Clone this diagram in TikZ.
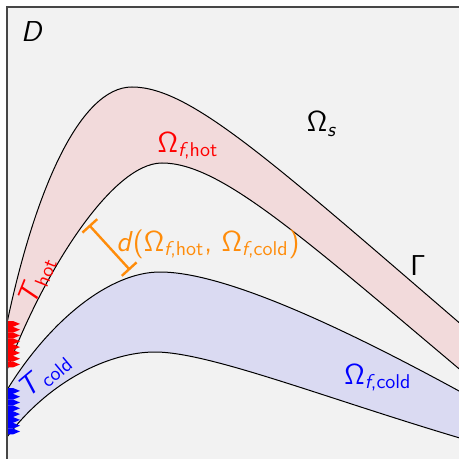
\documentclass[tikz,border=0pt]{standalone}
\usepackage{xcolor}
\usepackage{tikz}
\usetikzlibrary{arrows.meta}
\definecolor{bgclr}{RGB}{242,242,242}
\definecolor{frameclr}{RGB}{70,70,70}
\definecolor{hotfill}{RGB}{242,218,219}
\definecolor{coldfill}{RGB}{218,218,242}
\definecolor{hotclr}{RGB}{255,0,0}
\definecolor{coldclr}{RGB}{0,0,255}
\definecolor{distclr}{RGB}{255,140,10}
% sans Greek capitals from cmss
\newcommand{\OmG}{{\usefont{OT1}{cmss}{m}{n}\char10}}
\newcommand{\GamG}{{\usefont{OT1}{cmss}{m}{n}\char0}}
\tikzset{
    bound/.style={line width=0.5pt,black},
    lbl/.style={font=\Large\sffamily,inner sep=1pt},
    hotlbl/.style={lbl,text=hotclr},
    coldlbl/.style={lbl,text=coldclr},
    dist/.style={{Bar[width=10pt]}-{Bar[width=10pt]},line width=1.2pt,draw=distclr},
}

\begin{document}
\begin{tikzpicture}[x=0.5pt,y=-0.5pt]
\useasboundingbox (0,0) rectangle (459,459);
\clip (0,0) rectangle (459,459);

% domain D
\fill[bgclr] (7,7) rectangle (470,470);

% hot channel
\fill[hotfill] (7,323) .. controls (35,190) and (80,87) .. (132,87)
    .. controls (190,87) and (270,160) .. (470,332)
    -- (470,378) .. controls (300,235) and (220,163) .. (162,163)
    .. controls (110,163) and (40,280) .. (7,370) -- cycle;
\draw[bound] (7,323) .. controls (35,190) and (80,87) .. (132,87)
    .. controls (190,87) and (270,160) .. (470,332);
\draw[bound] (7,370) .. controls (40,280) and (110,163) .. (162,163)
    .. controls (220,163) and (300,235) .. (470,378);

% cold channel
\fill[coldfill] (7,390) .. controls (50,320) and (110,272) .. (160,272)
    .. controls (220,272) and (330,320) .. (470,397)
    -- (470,441) .. controls (330,400) and (210,352) .. (155,352)
    .. controls (110,352) and (50,380) .. (7,437) -- cycle;
\draw[bound] (7,390) .. controls (50,320) and (110,272) .. (160,272)
    .. controls (220,272) and (330,320) .. (470,397);
\draw[bound] (7,437) .. controls (50,380) and (110,352) .. (155,352)
    .. controls (210,352) and (330,400) .. (470,441);

% heated / cooled walls
\foreach \y in {321,326.8,...,362}
    \fill[hotclr] (7,\y) -- (13,\y) -- (20,\y+2.9) -- (13,\y+5.8) -- (7,\y+5.8) -- cycle;
\foreach \y in {388,393.8,...,430}
    \fill[coldclr] (7,\y) -- (13,\y) -- (20,\y+2.9) -- (13,\y+5.8) -- (7,\y+5.8) -- cycle;

% frame
\draw[frameclr,line width=0.8pt] (7,470) -- (7,7) -- (470,7);

% labels
\node[lbl]     (D)     at (32,32)   {\textit{D}};
\node[lbl]     (Os)    at (322,124) {\OmG\textsubscript{\textit{s}}};
\node[lbl]     (G)     at (418,265) {\GamG};
\node[hotlbl]  (Ohot)  at (188,146) {\OmG\textsubscript{\textit{f},hot}};
\node[coldlbl] (Ocold) at (378,378) {\OmG\textsubscript{\textit{f},cold}};
\node[hotlbl,rotate=68]  (Thot)  at (37,281) {\textit{T}\textsubscript{hot}};
\node[coldlbl,rotate=40] (Tcold) at (45,375) {\textit{T}\textsubscript{cold}};

% distance between channels
\coordinate (dtop) at (89,225);
\coordinate (dbot) at (130,270);
\draw[dist] (dtop) -- (dbot);
\node[lbl,text=distclr] (dlbl) at (208,244)
    {\textit{d}(\OmG\textsubscript{\textit{f},hot}, \OmG\textsubscript{\textit{f},cold})};
\end{tikzpicture}
\end{document}
